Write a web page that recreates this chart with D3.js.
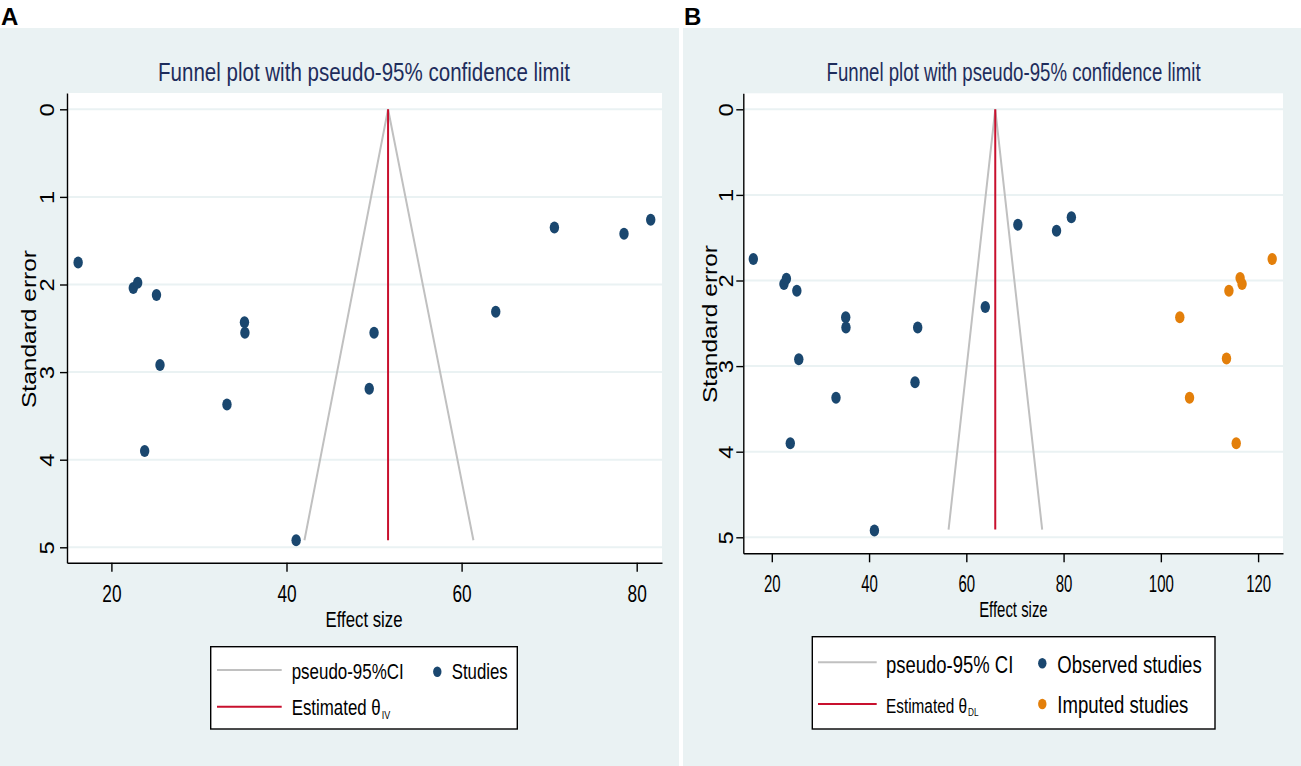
<!DOCTYPE html>
<html><head><meta charset="utf-8">
<script src="https://cdn.jsdelivr.net/npm/d3@7"></script>
<style>body{margin:0;background:#fff} svg{display:block;font-family:"Liberation Sans",Arial,Helvetica,sans-serif}</style>
</head><body><svg id="c" width="1301" height="766"></svg>
<script>
// ---------- data ----------
const yTicks = [0, 1, 2, 3, 4, 5];
const xTicksA = [20, 40, 60, 80];
const xTicksB = [20, 40, 60, 80, 100, 120];
const titleText = "Funnel plot with pseudo-95% confidence limit";
const xLabel = "Effect size";
const yLabel = "Standard error";

// observed studies (effect size, standard error)
const studyEffect = [16.2, 22.5, 23.0, 25.15, 35.2, 35.25, 25.55, 33.2, 23.8, 41.1, 50.0, 49.45, 63.9, 70.6, 78.55, 81.6];
const studySE     = [1.75, 2.04, 1.98, 2.12, 2.43, 2.55, 2.92, 3.37, 3.90, 4.92, 2.55, 3.19, 2.31, 1.35, 1.42, 1.26];
// imputed studies (panel B)
const imputedEffect = [122.9, 116.3, 116.7, 114.0, 103.9, 113.5, 105.9, 115.5];
const imputedSE     = [1.75, 1.97, 2.04, 2.12, 2.43, 2.91, 3.37, 3.90];

// funnel (pseudo 95% CI) lines and estimate lines
const funnelSeA = [4.92, 0, 4.92];
const funnelEsA = [42.05, 51.6, 61.35];
const thetaA = 51.6;
const thetaSeA = [0, 4.92];
const funnelSeB = [4.91, 0, 4.91];
const funnelEsB = [56.35, 65.95, 75.6];
const thetaB = 65.95;
const thetaSeB = [0, 4.91];

// ---------- styles ----------
const BG = "#eaf2f3", NAVY = "#1a476f", ORANGE = "#e37f0a", RED = "#c8102e", GRAY = "#c0c0c0", TITLE = "#1e2d5c";

const svg = d3.select("#c");
svg.append("rect").attr("width", 1301).attr("height", 766).attr("fill", "#fff");

function fit(sel, len) { sel.attr("textLength", len).attr("lengthAdjust", "spacingAndGlyphs"); return sel; }
function squeeze(sel, f) {
  sel.each(function () {
    const w = this.getComputedTextLength();
    d3.select(this).attr("textLength", w * f).attr("lengthAdjust", "spacingAndGlyphs");
  });
}

function panel(cfg) {
  const g = svg.append("g");
  g.append("rect").attr("x", cfg.bg[0]).attr("y", cfg.bg[1]).attr("width", cfg.bg[2]).attr("height", cfg.bg[3]).attr("fill", BG);
  g.append("text").attr("x", cfg.letterX).attr("y", 25).attr("font-size", 24).attr("font-weight", "bold").attr("fill", "#000").text(cfg.letter);

  const p = cfg.plot;
  const x = d3.scaleLinear().domain([cfg.xRef[0], cfg.xRef[2]]).range([cfg.xRef[1], cfg.xRef[3]]);
  x.domain([x.invert(p.l), x.invert(p.r)]).range([p.l, p.r]);
  const y = d3.scaleLinear().domain([cfg.yRef[0], cfg.yRef[2]]).range([cfg.yRef[1], cfg.yRef[3]]);
  y.domain([y.invert(p.t), y.invert(p.b)]).range([p.t, p.b]);

  g.append("rect").attr("x", p.l).attr("y", p.t).attr("width", p.r - p.l).attr("height", p.b - p.t).attr("fill", "#fff");

  g.selectAll(".grid").data(yTicks).join("line")
    .attr("x1", p.l).attr("x2", p.r).attr("y1", d => y(d)).attr("y2", d => y(d))
    .attr("stroke", BG).attr("stroke-width", 2);

  fit(g.append("text").attr("x", cfg.titleX).attr("y", 81).attr("text-anchor", "middle")
    .attr("font-size", 25.5).attr("fill", TITLE).text(titleText), cfg.titleW);

  const line = d3.line().x(d => x(d[0])).y(d => y(d[1]));
  g.append("path").datum(cfg.funnelEs.map((e, i) => [e, cfg.funnelSe[i]]))
    .attr("d", line).attr("fill", "none").attr("stroke", GRAY).attr("stroke-width", 2);
  g.append("path").datum(cfg.thetaSe.map(s => [cfg.theta, s]))
    .attr("d", line).attr("fill", "none").attr("stroke", RED).attr("stroke-width", 2);

  g.selectAll(".obs").data(studyEffect.map((e, i) => [e, studySE[i]])).join("ellipse")
    .attr("cx", d => x(d[0])).attr("cy", d => y(d[1])).attr("rx", 4.7).attr("ry", 6).attr("fill", NAVY);
  if (cfg.imputed) {
    g.selectAll(".imp").data(imputedEffect.map((e, i) => [e, imputedSE[i]])).join("ellipse")
      .attr("cx", d => x(d[0])).attr("cy", d => y(d[1])).attr("rx", 4.7).attr("ry", 6).attr("fill", ORANGE);
  }

  const ax = g.append("g").attr("transform", `translate(0,${p.b})`)
    .call(d3.axisBottom(x).tickValues(cfg.xTicks).tickFormat(d3.format("d")).tickSize(9).tickSizeOuter(0));
  const ay = g.append("g").attr("transform", `translate(${p.l},0)`)
    .call(d3.axisLeft(y).tickValues(yTicks).tickFormat(d3.format("d")).tickSize(7).tickSizeOuter(0));
  [ax, ay].forEach(a => {
    a.select(".domain").attr("stroke", "#000").attr("stroke-width", 1.4);
    a.selectAll(".tick line").attr("stroke", "#000").attr("stroke-width", 1.4);
    a.selectAll("text").attr("fill", "#000").attr("font-family", null);
  });
  ax.selectAll("text").attr("font-size", 23).attr("y", cfg.xTickBase - p.b).attr("dy", 0);
  squeeze(ax.selectAll("text"), cfg.xTickSq);
  ay.selectAll("text").attr("font-size", 19.5).attr("x", 0).attr("dy", 0)
    .attr("text-anchor", "middle").attr("transform", `translate(${cfg.yTickOff},0) rotate(-90)`);
  squeeze(ay.selectAll("text"), 1.22);

  fit(g.append("text").attr("x", cfg.xLabX).attr("y", cfg.xLabY).attr("text-anchor", "middle")
    .attr("font-size", 22).attr("fill", "#000").text(xLabel), cfg.xLabW);
  fit(g.append("text").attr("text-anchor", "middle").attr("font-size", 19.5).attr("fill", "#000")
    .attr("transform", `translate(${cfg.yLabX},${cfg.yLabY}) rotate(-90)`).text(yLabel), 158);

  const L = cfg.legend;
  g.append("rect").attr("x", L.box[0]).attr("y", L.box[1]).attr("width", L.box[2] - L.box[0]).attr("height", L.box[3] - L.box[1])
    .attr("fill", "#fff").attr("stroke", "#000").attr("stroke-width", 1.4);
  g.append("line").attr("x1", L.lx[0]).attr("x2", L.lx[1]).attr("y1", L.gy).attr("y2", L.gy).attr("stroke", GRAY).attr("stroke-width", 2);
  g.append("line").attr("x1", L.lx[0]).attr("x2", L.lx[1]).attr("y1", L.ry).attr("y2", L.ry).attr("stroke", RED).attr("stroke-width", 2);
  L.texts.forEach(t => {
    fit(g.append("text").attr("x", t.x).attr("y", t.y).attr("font-size", t.fs).attr("fill", "#000").text(t.s), t.w);
  });
  // estimate label with subscript (one text element)
  const E = L.est;
  const et = g.append("text").attr("x", E.x).attr("y", E.y).attr("fill", "#000");
  fit(et.append("tspan").attr("font-size", E.fs).text("Estimated θ"), E.w);
  fit(et.append("tspan").attr("font-size", E.subFs).attr("dx", 1).attr("dy", E.subDy).text(E.sub), E.subW);
  L.dots.forEach(d => {
    g.append("ellipse").attr("cx", d.x).attr("cy", d.y).attr("rx", 4.2).attr("ry", 5.2).attr("fill", d.c);
  });
}

panel({
  letter: "A", letterX: 1,
  bg: [0, 28, 679, 738],
  plot: { l: 67, r: 662, t: 93, b: 562.7 },
  xRef: [20, 111.4, 80, 636.7], yRef: [0, 109.3, 5, 547.3],
  xTicks: xTicksA, xTickBase: 601.7, xTickSq: 0.75, yTickOff: -13.4,
  titleX: 364, titleW: 412,
  xLabX: 364, xLabY: 627, xLabW: 77,
  yLabX: 36, yLabY: 329,
  funnelSe: funnelSeA, funnelEs: funnelEsA, theta: thetaA, thetaSe: thetaSeA,
  imputed: false,
  legend: {
    box: [210.7, 646.7, 517.3, 729], lx: [217, 281.7], gy: 670, ry: 706.7,
    texts: [
      { s: "pseudo-95%CI", x: 291.7, y: 679, fs: 22, w: 112 },
      { s: "Studies", x: 451.7, y: 679, fs: 22, w: 56 }
    ],
    est: { x: 291.7, y: 715, fs: 22, w: 89, sub: "IV", subFs: 11, subDy: 4, subW: 8.5 },
    dots: [{ x: 437.3, y: 671.7, c: NAVY }]
  }
});

panel({
  letter: "B", letterX: 684,
  bg: [683, 28, 618, 738],
  plot: { l: 743.3, r: 1283, t: 93.3, b: 553.3 },
  xRef: [20, 771.8, 120, 1258.1], yRef: [0, 109.3, 5, 537.3],
  xTicks: xTicksB, xTickBase: 591.7, xTickSq: 0.65, yTickOff: -10,
  titleX: 1013.6, titleW: 374,
  xLabX: 1013.4, xLabY: 616.7, xLabW: 68.5,
  yLabX: 716.7, yLabY: 324,
  funnelSe: funnelSeB, funnelEs: funnelEsB, theta: thetaB, thetaSe: thetaSeB,
  imputed: true,
  legend: {
    box: [812.3, 636.7, 1215, 729], lx: [818, 876.7], gy: 662.3, ry: 704,
    texts: [
      { s: "pseudo-95% CI", x: 886, y: 673.3, fs: 23, w: 127.3 },
      { s: "Observed studies", x: 1057.3, y: 673, fs: 23, w: 144.4 },
      { s: "Imputed studies", x: 1057.3, y: 713, fs: 23, w: 131 }
    ],
    est: { x: 886, y: 712.7, fs: 19.6, w: 81, sub: "DL", subFs: 10, subDy: 3.5, subW: 10.5 },
    dots: [{ x: 1042.3, y: 663.3, c: NAVY }, { x: 1042.3, y: 704, c: ORANGE }]
  }
});
</script></body></html>
